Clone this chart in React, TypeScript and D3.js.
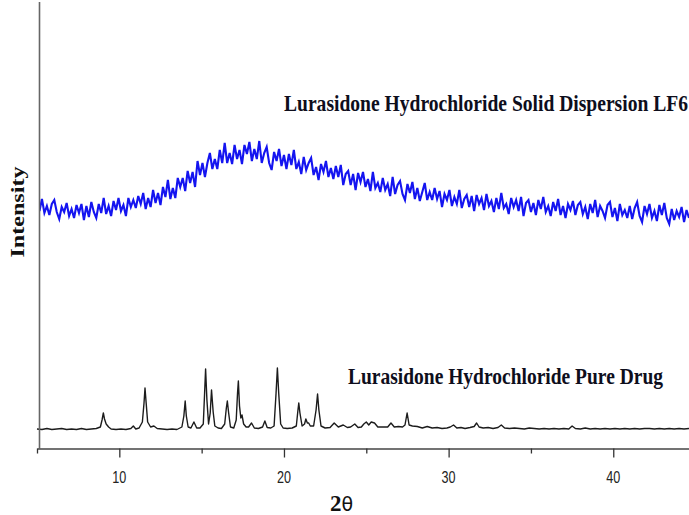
import React, { useEffect, useRef } from 'react';
import * as d3 from 'd3';

// 2-theta range shown on the x axis
const thetaMin = 5;
const thetaMax = 44.6;
const xTicks = [5, 10, 15, 20, 25, 30, 35, 40];
const xLabels = [10, 20, 30, 40];

// solid dispersion LF6, sampled every 0.15 deg starting at 5.0 (a.u.)
const lf6Step = 0.15;
const lf6Counts = [
    246, 237, 249, 235, 242, 233, 244, 248, 236, 229, 241, 236, 245, 232, 239, 230, 243, 235, 244, 228,
    242, 231, 246, 236, 230, 244, 235, 250, 234, 242, 232, 247, 238, 250, 237, 243, 232, 250, 241, 248,
    240, 252, 244, 255, 239, 250, 241, 258, 245, 255, 243, 261, 251, 268, 249, 260, 250, 270, 261, 270,
    257, 277, 265, 276, 261, 287, 273, 285, 271, 285, 295, 279, 289, 279, 298, 285, 305, 285, 295, 284,
    303, 289, 298, 284, 303, 294, 306, 287, 299, 289, 307, 285, 295, 301, 285, 278, 296, 287, 299, 282,
    293, 279, 294, 283, 298, 279, 286, 274, 291, 278, 285, 290, 273, 281, 268, 284, 276, 287, 271, 280,
    269, 282, 271, 283, 263, 274, 277, 263, 274, 258, 275, 266, 276, 261, 269, 257, 276, 260, 265, 256,
    270, 258, 264, 252, 271, 254, 263, 267, 254, 248, 264, 255, 266, 249, 260, 247, 256, 265, 248, 256,
    248, 260, 249, 257, 241, 254, 248, 258, 242, 251, 244, 258, 240, 249, 253, 241, 252, 237, 253, 244,
    250, 238, 254, 242, 247, 236, 250, 239, 255, 240, 244, 234, 250, 241, 248, 237, 251, 232, 245, 248,
    236, 245, 233, 248, 239, 251, 236, 242, 232, 246, 237, 249, 233, 242, 230, 244, 238, 247, 233, 243,
    246, 234, 241, 229, 244, 235, 248, 231, 242, 237, 230, 243, 246, 231, 240, 227, 244, 233, 238, 230,
    242, 229, 240, 246, 232, 226, 242, 234, 244, 230, 237, 227, 243, 233, 245, 230, 224, 239, 228, 237,
    231, 241, 226, 238, 230,
];

// pure drug pattern: [2theta, intensity (a.u.)]
const pureDrug: [number, number][] = [
    [5.0, 19], [5.3, 18.5], [5.6, 19.5], [5.9, 18.5], [6.2, 19], [6.5, 19.5], [6.8, 18.5], [7.1, 19],
    [7.4, 18.5], [7.7, 19.5], [8.0, 18.5], [8.3, 19], [8.6, 19.5], [8.85, 21], [8.95, 28], [9.03, 35],
    [9.1, 29], [9.2, 24], [9.35, 21], [9.5, 19], [9.8, 18.5], [10.1, 19], [10.4, 18.5], [10.7, 19.5],
    [10.85, 22], [11.0, 19], [11.2, 20], [11.4, 26], [11.5, 45], [11.56, 60], [11.63, 45], [11.72, 26],
    [11.9, 21], [12.1, 22], [12.3, 19.5], [12.6, 19], [12.9, 18.5], [13.2, 19], [13.5, 18.5], [13.8, 21],
    [13.92, 32], [14.0, 47], [14.07, 32], [14.18, 21], [14.35, 20], [14.53, 26], [14.7, 20], [14.9, 20],
    [15.1, 24], [15.18, 55], [15.24, 79], [15.32, 48], [15.42, 24], [15.52, 35], [15.6, 58], [15.7, 36],
    [15.8, 22], [16.0, 20], [16.2, 19.5], [16.4, 24], [16.5, 40], [16.56, 47], [16.64, 35], [16.75, 21],
    [16.95, 20], [17.1, 28], [17.18, 55], [17.23, 67], [17.3, 42], [17.38, 30], [17.45, 33], [17.55, 24],
    [17.7, 21], [17.85, 21], [18.03, 25], [18.2, 20], [18.45, 19.5], [18.7, 21], [18.84, 27], [18.98, 20.5],
    [19.2, 20], [19.4, 22], [19.52, 55], [19.6, 80], [19.68, 55], [19.8, 24], [19.95, 20], [20.2, 19.5],
    [20.5, 20], [20.75, 22], [20.85, 38], [20.9, 45], [20.97, 35], [21.1, 22], [21.25, 24], [21.33, 29],
    [21.42, 25], [21.5, 25], [21.6, 22], [21.8, 22], [21.95, 38], [22.04, 54], [22.12, 38], [22.25, 22],
    [22.5, 20], [22.8, 20.5], [23.05, 25], [23.3, 21], [23.6, 23], [23.85, 20.5], [24.05, 21], [24.3, 24],
    [24.5, 20.5], [24.7, 21], [24.85, 24], [25.0, 26], [25.15, 23], [25.3, 26], [25.5, 25], [25.7, 21],
    [26.0, 21], [26.3, 21], [26.5, 25], [26.7, 21], [26.95, 21.5], [27.2, 21], [27.35, 23], [27.48, 35],
    [27.6, 23], [27.8, 22], [28.1, 21.5], [28.4, 20], [28.7, 21.5], [29.0, 20], [29.3, 20.5], [29.6, 19.5],
    [29.9, 20], [30.1, 21], [30.3, 23], [30.5, 20], [30.75, 20.5], [31.0, 19.5], [31.3, 20.5], [31.55, 21.5],
    [31.7, 25], [31.85, 21], [32.1, 20], [32.4, 20.5], [32.7, 19.5], [33.0, 20.5], [33.2, 23], [33.4, 20],
    [33.7, 19.5], [34.0, 20], [34.3, 19.5], [34.6, 19], [34.9, 20], [35.2, 19.5], [35.5, 19], [35.8, 19.5],
    [36.1, 19], [36.4, 19.5], [36.7, 19], [37.0, 19.5], [37.3, 19], [37.5, 22], [37.7, 19.5], [38.0, 19],
    [38.3, 20], [38.6, 19], [38.9, 19.5], [39.2, 19], [39.5, 19.5], [39.8, 19], [40.1, 19.5], [40.4, 19],
    [40.7, 19.5], [41.0, 19], [41.3, 19.5], [41.6, 19], [41.9, 19.5], [42.2, 19.5], [42.5, 19], [42.8, 19.5],
    [43.1, 19], [43.4, 19.5], [43.7, 19], [44.0, 19.5], [44.3, 19], [44.6, 19.5],
];

const W = 689;
const H = 515;

function XrdChart() {
    const ref = useRef<SVGSVGElement>(null);

    useEffect(() => {
        const svg = d3.select(ref.current);
        svg.selectAll('*').remove();

        const axisY = 448.5;
        const yAxisX = 39.5;

        let x = d3.scaleLinear().domain([thetaMin, thetaMax]).range([37, W]);
        let y = d3.scaleLinear().domain([0, 448]).range([448, 0]);

        const lf6 = lf6Counts.map((v, i) => [thetaMin + i * lf6Step, v] as [number, number]);

        let line = d3.line<[number, number]>()
            .x((d) => x(d[0]))
            .y((d) => y(d[1]));

        svg.append('defs').append('clipPath')
            .attr('id', 'plotClip')
            .append('rect')
            .attr('x', yAxisX + 0.5).attr('y', 0)
            .attr('width', W - yAxisX).attr('height', axisY);

        // blue amorphous trace
        svg.append('path')
            .datum(lf6)
            .attr('clip-path', 'url(#plotClip)')
            .attr('d', line)
            .attr('fill', 'none')
            .attr('stroke', '#1414f0')
            .attr('stroke-width', 2.1)
            .attr('stroke-linejoin', 'miter');

        // crystalline drug trace
        svg.append('path')
            .datum(pureDrug)
            .attr('d', line)
            .attr('fill', 'none')
            .attr('stroke', '#1c1c1c')
            .attr('stroke-width', 1.4)
            .attr('stroke-linejoin', 'round');

        // left axis (no ticks)
        svg.append('line')
            .attr('x1', yAxisX).attr('x2', yAxisX)
            .attr('y1', 2).attr('y2', axisY)
            .attr('stroke', '#666')
            .attr('stroke-width', 1.6);

        // bottom axis
        let xAxis = d3.axisBottom(x)
            .tickValues(xTicks)
            .tickSizeOuter(0)
            .tickFormat(() => '');

        let gx = svg.append('g')
            .attr('transform', `translate(0, ${axisY})`)
            .call(xAxis);
        gx.select('.domain').attr('stroke', '#444').attr('stroke-width', 1.5);
        gx.selectAll('.tick line')
            .attr('stroke', '#333')
            .attr('stroke-width', 1.3)
            .attr('y2', (d: any) => (xLabels.includes(d) ? 9 : 5));

        svg.append('g')
            .selectAll('text')
            .data(xLabels)
            .join('text')
                .attr('x', (d) => x(d))
                .attr('y', 483)
                .attr('text-anchor', 'middle')
                .attr('textLength', 14)
                .attr('lengthAdjust', 'spacingAndGlyphs')
                .style('font-family', '"Liberation Sans Narrow", "Liberation Sans", Arial, sans-serif')
                .style('font-size', '16px')
                .attr('fill', '#222')
                .text((d) => d);

        // axis titles
        const axTitle = svg.append('text')
            .attr('x', 330)
            .attr('y', 511)
            .style('font-family', '"Liberation Serif", "Times New Roman", serif')
            .style('font-size', '23px')
            .attr('fill', '#111');
        axTitle.append('tspan').style('font-weight', 'bold').text('2');
        axTitle.append('tspan').style('font-family', '"DejaVu Sans", sans-serif').style('font-size', '19px').text('θ');

        svg.append('text')
            .attr('transform', 'translate(24, 212) rotate(-90)')
            .attr('text-anchor', 'middle')
            .attr('textLength', 91)
            .attr('lengthAdjust', 'spacingAndGlyphs')
            .style('font-family', '"Liberation Serif", "Times New Roman", serif')
            .style('font-weight', 'bold')
            .style('font-size', '19px')
            .attr('fill', '#111')
            .text('Intensity');

        // series labels
        const labels = [
            { text: 'Lurasidone Hydrochloride Solid Dispersion LF6', x: 284, y: 111, len: 404, size: 24 },
            { text: 'Lurasidone Hydrochloride Pure Drug', x: 348, y: 384, len: 315, size: 23 },
        ];
        svg.append('g')
            .selectAll('text')
            .data(labels)
            .join('text')
                .attr('x', (d) => d.x)
                .attr('y', (d) => d.y)
                .attr('textLength', (d) => d.len)
                .attr('lengthAdjust', 'spacingAndGlyphs')
                .style('font-family', '"Liberation Serif", "Times New Roman", serif')
                .style('font-weight', 'bold')
                .style('font-size', (d) => d.size + 'px')
                .attr('fill', '#0e0e1c')
                .text((d) => d.text);
    }, []);

    return (
        <svg ref={ref} width={W} height={H}
            style={{ position: 'absolute', left: 0, top: 0, background: '#fff' }}></svg>
    );
}

export default function App() {
    return <XrdChart />;
}
